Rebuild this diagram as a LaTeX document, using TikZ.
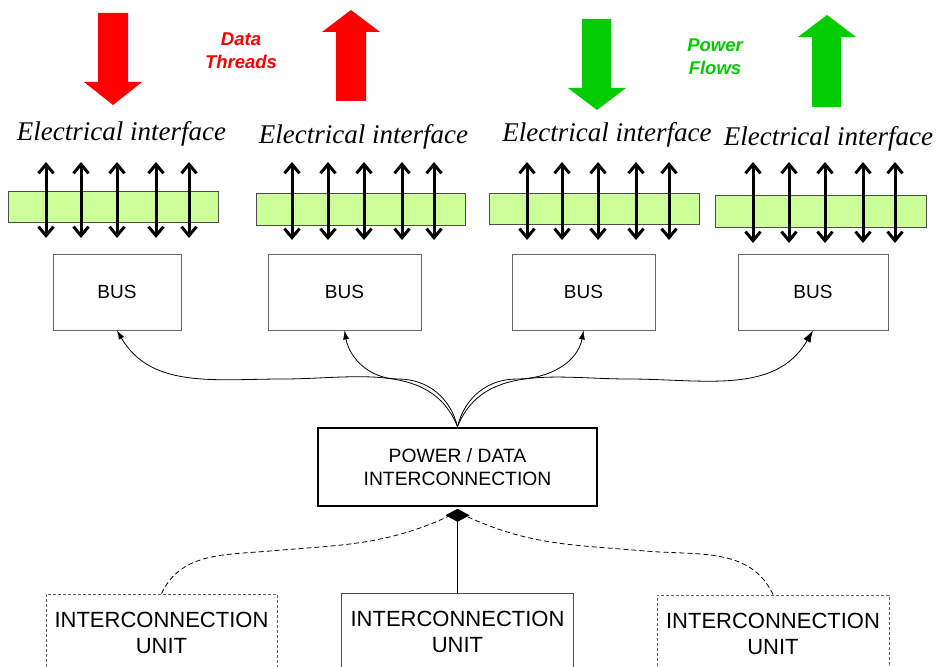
\documentclass[tikz,border=0pt]{standalone}
\usepackage{fontspec}
\setmainfont{Liberation Serif}
\newfontfamily\arial{Liberation Sans}
\usetikzlibrary{arrows.meta}
\definecolor{barfill}{RGB}{204,255,153}
\definecolor{flowgreen}{RGB}{0,204,0}
\definecolor{flowred}{RGB}{255,0,0}
\begin{document}
\begin{tikzpicture}[x=1pt,y=1pt,
  busbox/.style={draw=black!60, line width=0.8pt, minimum height=76pt, font=\arial\fontsize{19}{22}\selectfont, inner sep=0pt},
  bar/.style={draw=black!70, fill=barfill, line width=0.8pt, inner sep=0pt},
  eitext/.style={font=\fontsize{27}{30}\selectfont\itshape, inner sep=0pt},
  pin/.style={line width=3pt, {Straight Barb[length=9pt,width=15pt]}-{Straight Barb[length=9pt,width=15pt]}},
  feed/.style={line width=0.8pt, -{Latex[length=9pt,width=6pt]}},
  unitbox/.style={minimum width=231pt, minimum height=78pt, align=center, font=\arial\fontsize{22}{26}\selectfont, inner sep=0pt},
  link/.style={line width=0.8pt, dash pattern=on 5pt off 3pt},
  flowtext/.style={font=\arial\bfseries\itshape\fontsize{18.5}{23}\selectfont, align=center, inner sep=0pt}
]
\useasboundingbox (0,0) rectangle (936,666);
\clip (0,0) rectangle (936,666);

% block arrows
\fill[flowred] (98,653) -- (128,653) -- (128,584) -- (142,584) -- (113,561) -- (84,584) -- (98,584) -- cycle;
\fill[flowred] (336,565) -- (366,565) -- (366,634) -- (380,634) -- (351,656) -- (322,634) -- (336,634) -- cycle;
\fill[flowgreen] (582,647) -- (611,647) -- (611,578) -- (626,578) -- (597,556) -- (568,578) -- (582,578) -- cycle;
\fill[flowgreen] (812,559) -- (841,559) -- (841,629) -- (856,629) -- (827,651) -- (798,629) -- (812,629) -- cycle;

\node[flowtext, text=flowred] (dt) at (241,615.5) {Data\\Threads};
\node[flowtext, text=flowgreen] (pf) at (715,609) {Power\\Flows};

% electrical interface labels
\node[eitext] (ei1) at (121.5,532) {Electrical interface};
\node[eitext] (ei2) at (363.5,529) {Electrical interface};
\node[eitext] (ei3) at (607,531) {Electrical interface};
\node[eitext] (ei4) at (828.5,527) {Electrical interface};

% bars
\node[bar, minimum width=210pt, minimum height=31pt] (bar1) at (113,459.5) {};
\node[bar, minimum width=209pt, minimum height=32pt] (bar2) at (360.5,457) {};
\node[bar, minimum width=210pt, minimum height=31pt] (bar3) at (594,457.5) {};
\node[bar, minimum width=211pt, minimum height=32pt] (bar4) at (820.5,455) {};

\foreach \x in {46,81,117,156,189} \draw[pin] (\x,428) -- (\x,504);
\foreach \x in {292,328,364,402,434} \draw[pin] (\x,426) -- (\x,504);
\foreach \x in {527,562,598,636,669} \draw[pin] (\x,426) -- (\x,504);
\foreach \x in {753,789,825,863,895} \draw[pin] (\x,423) -- (\x,504);

% bus boxes
\node[busbox, minimum width=128pt] (bus1) at (117,374) {BUS};
\node[busbox, minimum width=153pt] (bus2) at (344.5,374) {BUS};
\node[busbox, minimum width=143pt] (bus3) at (583.5,374) {BUS};
\node[busbox, minimum width=150pt] (bus4) at (813,374) {BUS};

% power / data box
\node[draw, line width=2.8pt, minimum width=279pt, minimum height=78pt, align=center, inner sep=0pt,
      font=\arial\fontsize{19.3}{23}\selectfont] (pd) at (457.5,199) {POWER / DATA\\INTERCONNECTION};

% feeds to buses
\coordinate (h1) at (283,287);
\coordinate (h2) at (398,287);
\coordinate (h3) at (517,287);
\coordinate (h4) at (628,287);
\draw[feed] (pd.north) to[out=112,in=0] (h1) to[out=180,in=-60] (bus1.south);
\draw[feed] (pd.north) to[out=104,in=0] (h2) to[out=180,in=-80] (bus2.south);
\draw[feed] (pd.north) to[out=76,in=180] (h3) to[out=0,in=-100] (bus3.south);
\draw[line width=0.8pt, -{Latex[length=12pt,width=8pt]}] (pd.north) to[out=68,in=180] (h4) to[out=0,in=-120] (bus4.south);

% interconnection units
\node[unitbox, draw=black!60, line width=0.8pt, dash pattern=on 3pt off 2pt] (lu) at (161.5,33) {INTERCONNECTION\\UNIT};
\node[unitbox, draw=black!70, line width=0.8pt, minimum width=232pt] (mu) at (457.5,34) {INTERCONNECTION\\UNIT};
\node[unitbox, draw=black!60, line width=0.8pt, dash pattern=on 3pt off 2pt, minimum width=232pt] (ru) at (773,32) {INTERCONNECTION\\UNIT};

\coordinate (b1) at (270,115);
\coordinate (b2) at (645,115);
\draw[link] (lu.north) to[out=65,in=185] (b1) to[out=5,in=-155] ([xshift=-7pt,yshift=-8pt]pd.south);
\draw[link] (ru.north) to[out=115,in=-5] (b2) to[out=175,in=-25] ([xshift=7pt,yshift=-8pt]pd.south);
\draw[line width=0.8pt, -{Diamond[length=13pt,width=24pt]}] (mu.north) -- ([yshift=-1.4pt]pd.south);
\end{tikzpicture}
\end{document}
